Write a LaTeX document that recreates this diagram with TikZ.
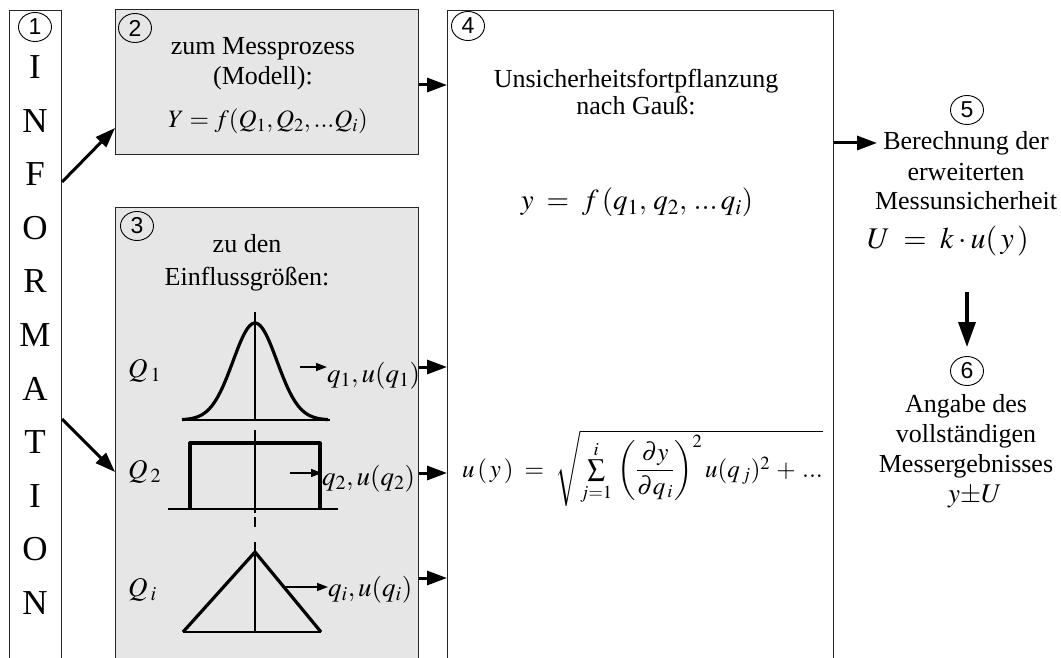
\documentclass[tikz,border=0pt]{standalone}
\usepackage{mathptmx}
\usepackage{fontspec}
\setmainfont{Liberation Serif}
\setsansfont{Liberation Sans}
\usetikzlibrary{arrows.meta,shapes.geometric}
\definecolor{boxgray}{HTML}{E6E6E6}
\begin{document}
\begin{tikzpicture}[x=1pt,y=-1pt,
  box/.style={draw=black!85, line width=1pt, anchor=north west, inner sep=0pt},
  graybox/.style={box, fill=boxgray},
  num/.style={draw, ellipse, line width=0.9pt, minimum width=33pt, minimum height=29pt, inner sep=0pt, font=\sffamily\fontsize{23}{23}\selectfont},
  txt/.style={anchor=base, inner sep=0pt, font=\fontsize{26}{30}\selectfont},
  big/.style={line width=3pt, -{Triangle[length=20pt,width=14pt]}},
  bigdown/.style={line width=3.5pt, -{Triangle[length=25pt,width=17pt]}},
  small/.style={line width=1.4pt, -{Triangle[length=11pt,width=8pt]}},
  thinl/.style={line width=1.1pt},
  curve/.style={line width=3.2pt, line join=round}]

\useasboundingbox (0,0) rectangle (1061,658);
\clip (0,0) rectangle (1061,658);

% boxes
\node[box, minimum width=52pt, minimum height=720pt] (info) at (9,10) {};
\node[graybox, minimum width=303pt, minimum height=145pt] (mod) at (115,9) {};
\node[graybox, minimum width=303pt, minimum height=520pt] (infl) at (115,207) {};
\node[box, minimum width=386pt, minimum height=720pt] (gauss) at (447,10) {};

% numbers
\node[num] (n1) at (35,27) {1};
\node[num] (n2) at (135,28) {2};
\node[num] (n3) at (137,226) {3};
\node[num] (n4) at (468,26) {4};
\node[num] (n5) at (967,110) {5};
\node[num] (n6) at (967,371) {6};

% INFORMATION
\foreach \L [count=\k from 0] in {I,N,F,O,R,M,A,T,I,O,N}
  \node[txt, font=\fontsize{35}{35}\selectfont] (L\k) at (35,{78.5+53.6*\k}) {\L};

% box 2
\node[txt] (t2a) at (263,55) {zum Messprozess};
\node[txt] (t2b) at (263,85) {(Modell):};
\node[txt, font=\fontsize{25}{30}\selectfont] (t2c) at (268,128) {$Y = f(Q_1,Q_2,...Q_i)$};

% box 3
\node[txt] (t3a) at (247,252) {zu den};
\node[txt] (t3b) at (247,285) {Einflussgrößen:};

% distributions
\draw[thinl] (255,312) -- (255,420);
\draw[thinl] (183,420) -- (330,420);
\draw[curve] plot[domain=-73:73, samples=90] ({255+\x}, {420-97*exp(-(\x*\x)/(2*22*22))});

\draw[thinl] (255,430) -- (255,513) (255,517) -- (255,527);
\draw[thinl] (168,509) -- (338,509);
\draw[curve] (190,509) -- (190,443) -- (320,443) -- (320,509);

\draw[thinl] (255,542) -- (255,632);
\draw[thinl] (183,632) -- (321,632);
\draw[curve] (183,632) -- (255,552) -- (321,632);

% Q labels
\node[txt, anchor=base west, font=\fontsize{27}{30}\selectfont] (Q1) at (128,377) {$Q\,{}_1$};
\node[txt, anchor=base west, font=\fontsize{27}{30}\selectfont] (Q2) at (128,478) {$Q\,{}_2$};
\node[txt, anchor=base west, font=\fontsize{27}{30}\selectfont] (Qi) at (128,596) {$Q\,{}_i$};

% q labels
\node[txt, anchor=base west, font=\fontsize{27}{30}\selectfont] (lq1) at (327,382) {$q_1,u(q_1)$};
\node[txt, anchor=base west, font=\fontsize{27}{30}\selectfont] (lq2) at (322,485) {$q_2,u(q_2)$};
\node[txt, anchor=base west, font=\fontsize{27}{30}\selectfont] (lqi) at (328,596) {$q_i,u(q_i)$};

\coordinate (s1) at (300,367);
\coordinate (s2) at (290,473);
\coordinate (s3) at (285,587);
\draw[small] (s1) -- (lq1.west |- s1);
\draw[small] (s2) -- (lq2.west |- s2);
\draw[small] (s3) -- (lqi.west |- s3);

% big arrows into box 4
\draw[big] (infl.east |- 0,367) -- (gauss.west |- 0,367);
\draw[big] (infl.east |- 0,473) -- (gauss.west |- 0,473);
\draw[big] (infl.east |- 0,578) -- (gauss.west |- 0,578);
\draw[big] (mod.east |- 0,85) -- (gauss.west |- 0,85);

% arrows from INFORMATION
\draw[big] (info.east |- 0,182) -- (mod.west |- 0,128);
\draw[big] (info.east |- 0,419) -- (infl.west |- 0,472);

% box 4
\node[txt] (t4a) at (636,88) {Unsicherheitsfortpflanzung};
\node[txt] (t4b) at (636,115) {nach Gauß:};
\node[txt, font=\fontsize{29}{30}\selectfont] (t4c) at (637,210) {$y \;=\; f\,(q_1,\, q_2,\, ...\, q_i)$};
\node[txt, anchor=base west, font=\fontsize{25}{28}\selectfont] (uy) at (462,477)
  {$u\,(\,y\,) \;=\; \sqrt{\sum\limits_{j=1}^{i}\,\left({\displaystyle\frac{\partial y}{\partial q_{\,i}}}\right)^{2} u(q_{\,j})^{2} \,+\, ...}$};

% right column
\node[txt] (r1) at (966,150) {Berechnung der};
\node[txt] (r2) at (966,181) {erweiterten};
\node[txt] (r3) at (966,210) {Messunsicherheit};
\node[txt, font=\fontsize{30}{30}\selectfont] (uk) at (948,248) {$U \;=\; k\cdot u(\,y\,)$};
\node[txt] (r4) at (966,412) {Angabe des};
\node[txt] (r5) at (966,442) {vollständigen};
\node[txt] (r6) at (966,472) {Messergebnisses};
\node[txt, font=\fontsize{27}{30}\selectfont] (r7) at (975,502) {$y{\pm}U$};

\coordinate (c5) at (877,143);
\draw[big] (gauss.east |- c5) -- (c5);
\coordinate (d1) at (967,292);
\coordinate (d2) at (967,347);
\draw[bigdown] (d1) -- (d2);
\end{tikzpicture}
\end{document}
